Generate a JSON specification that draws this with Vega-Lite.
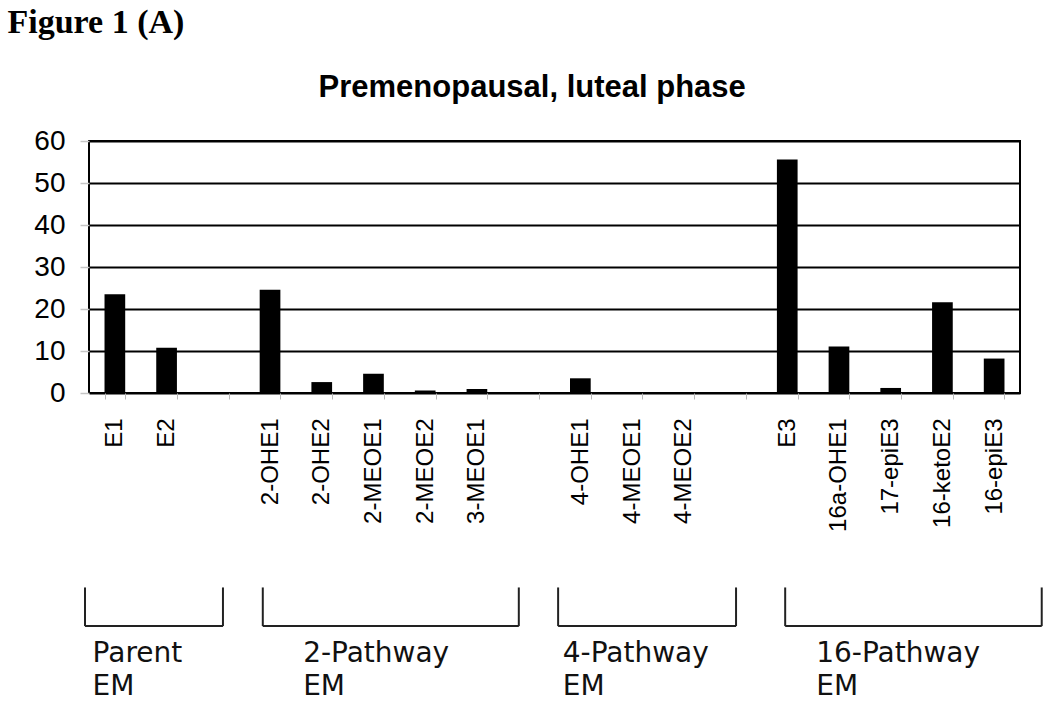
{
  "$schema": "https://vega.github.io/schema/vega-lite/v6.json",
  "width": 931,
  "height": 252,
  "autosize": {"type": "none"},
  "padding": {"left": 89, "top": 141, "right": 30, "bottom": 322},
  "background": "white",
  "config": {
    "view": {"stroke": "#000", "strokeWidth": 2},
    "axis": {"domain": false}
  },
  "datasets": {
    "bars": [
      {"compound": "E1", "value": 23.5},
      {"compound": "E2", "value": 10.8},
      {"compound": "2-OHE1", "value": 24.6},
      {"compound": "2-OHE2", "value": 2.6},
      {"compound": "2-MEOE1", "value": 4.6},
      {"compound": "2-MEOE2", "value": 0.6},
      {"compound": "3-MEOE1", "value": 0.95},
      {"compound": "4-OHE1", "value": 3.5},
      {"compound": "4-MEOE1", "value": 0},
      {"compound": "4-MEOE2", "value": 0},
      {"compound": "E3", "value": 55.6},
      {"compound": "16a-OHE1", "value": 11.1},
      {"compound": "17-epiE3", "value": 1.2},
      {"compound": "16-ketoE2", "value": 21.6},
      {"compound": "16-epiE3", "value": 8.2}
    ],
    "groups": [
      {"group": "Parent\nEM", "start": -0.077, "end": 2.59, "labelX": 0.07},
      {"group": "2-Pathway\nEM", "start": 3.36, "end": 8.31, "labelX": 4.14},
      {"group": "4-Pathway\nEM", "start": 9.07, "end": 12.51, "labelX": 9.16},
      {"group": "16-Pathway\nEM", "start": 13.46, "end": 18.42, "labelX": 14.06}
    ]
  },
  "layer": [
    {
      "data": {"name": "bars"},
      "mark": {"type": "bar", "color": "#000"},
      "encoding": {
        "x": {
          "field": "compound",
          "type": "nominal",
          "sort": null,
          "scale": {
            "domain": ["E1", "E2", "gap1", "2-OHE1", "2-OHE2", "2-MEOE1", "2-MEOE2", "3-MEOE1", "gap2", "4-OHE1", "4-MEOE1", "4-MEOE2", "gap3", "E3", "16a-OHE1", "17-epiE3", "16-ketoE2", "16-epiE3"],
            "paddingInner": 0.6,
            "paddingOuter": 0.3
          },
          "axis": {
            "orient": "bottom",
            "labelAngle": -90,
            "labelExpr": "indexof(datum.label, 'gap') == 0 ? '' : datum.label",
            "labelFont": "Liberation Sans",
            "labelFontSize": 24,
            "labelColor": "#000",
            "labelPadding": 19,
            "tickBand": "extent",
            "tickColor": "#b8b8b8",
            "tickWidth": 1,
            "tickSize": 6,
            "grid": false,
            "title": "Figure 1 (A)",
            "titleFont": "Liberation Serif",
            "titleFontSize": 34,
            "titleFontWeight": "bold",
            "titleColor": "#000",
            "titleAlign": "left",
            "titleBaseline": "alphabetic",
            "titleX": -82,
            "titleY": -361
          }
        },
        "y": {
          "field": "value",
          "type": "quantitative",
          "scale": {"domain": [0, 60], "nice": false},
          "axis": {
            "values": [0, 10, 20, 30, 40, 50, 60],
            "labelFont": "Liberation Sans",
            "labelFontSize": 28,
            "labelColor": "#000",
            "labelPadding": 15,
            "tickColor": "#c4c4c4",
            "tickWidth": 1.5,
            "tickSize": 9,
            "grid": true,
            "gridColor": "#000",
            "gridWidth": 2,
            "gridOpacity": 1,
            "title": null
          }
        }
      }
    },
    {
      "data": {"name": "groups"},
      "layer": [
        {
          "mark": {"type": "rule", "color": "#222", "strokeWidth": 2},
          "encoding": {
            "x": {
              "field": "start", "type": "quantitative",
              "scale": {"domain": [0, 18], "nice": false, "zero": false},
              "axis": {"orient": "top", "labels": false, "ticks": false, "domain": false, "grid": false,
                "title": "Premenopausal, luteal phase", "titleFont": "Liberation Sans", "titleFontSize": 31,
                "titleFontWeight": "bold", "titleColor": "#000", "titleAlign": "center", "titleBaseline": "alphabetic",
                "titleX": 442.7, "titleY": -44.3}
            },
            "x2": {"field": "end"},
            "y": {"datum": -55.5, "type": "quantitative", "scale": {"domain": [0, 60], "nice": false}}
          }
        },
        {
          "mark": {"type": "rule", "color": "#222", "strokeWidth": 2},
          "encoding": {
            "x": {
              "field": "start", "type": "quantitative",
              "scale": {"domain": [0, 18], "nice": false, "zero": false},
              "axis": {"orient": "top", "labels": false, "ticks": false, "domain": false, "grid": false,
                "title": "Premenopausal, luteal phase", "titleFont": "Liberation Sans", "titleFontSize": 31,
                "titleFontWeight": "bold", "titleColor": "#000", "titleAlign": "center", "titleBaseline": "alphabetic",
                "titleX": 442.7, "titleY": -44.3}
            },
            "y": {"datum": -46.3, "type": "quantitative", "scale": {"domain": [0, 60], "nice": false}},
            "y2": {"datum": -55.5}
          }
        },
        {
          "mark": {"type": "rule", "color": "#222", "strokeWidth": 2},
          "encoding": {
            "x": {
              "field": "end", "type": "quantitative",
              "scale": {"domain": [0, 18], "nice": false, "zero": false},
              "axis": {"orient": "top", "labels": false, "ticks": false, "domain": false, "grid": false,
                "title": "Premenopausal, luteal phase", "titleFont": "Liberation Sans", "titleFontSize": 31,
                "titleFontWeight": "bold", "titleColor": "#000", "titleAlign": "center", "titleBaseline": "alphabetic",
                "titleX": 442.7, "titleY": -44.3}
            },
            "y": {"datum": -46.3, "type": "quantitative", "scale": {"domain": [0, 60], "nice": false}},
            "y2": {"datum": -55.5}
          }
        },
        {
          "mark": {"type": "text", "align": "left", "baseline": "alphabetic", "font": "DejaVu Sans", "fontSize": 28, "color": "#111", "lineBreak": "\n", "lineHeight": 33},
          "encoding": {
            "x": {
              "field": "labelX", "type": "quantitative",
              "scale": {"domain": [0, 18], "nice": false, "zero": false},
              "axis": {"orient": "top", "labels": false, "ticks": false, "domain": false, "grid": false,
                "title": "Premenopausal, luteal phase", "titleFont": "Liberation Sans", "titleFontSize": 31,
                "titleFontWeight": "bold", "titleColor": "#000", "titleAlign": "center", "titleBaseline": "alphabetic",
                "titleX": 442.7, "titleY": -44.3}
            },
            "y": {"datum": -64.1, "type": "quantitative", "scale": {"domain": [0, 60], "nice": false}},
            "text": {"field": "group"}
          }
        }
      ]
    }
  ],
  "resolve": {"scale": {"x": "independent"}, "axis": {"x": "independent"}}
}
